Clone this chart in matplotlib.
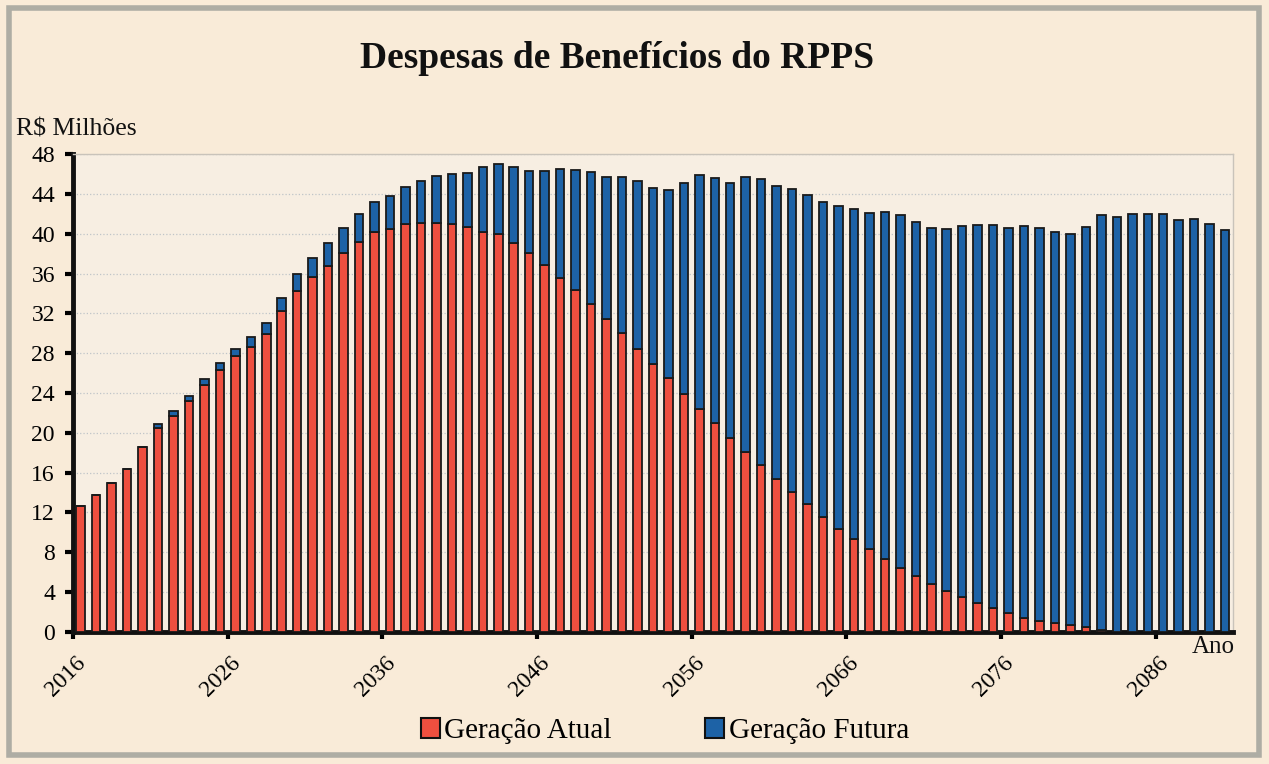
import matplotlib
matplotlib.use("Agg")
import matplotlib.pyplot as plt
from matplotlib.patches import Rectangle, Patch
from matplotlib.transforms import ScaledTranslation

plt.rcParams['font.family'] = ['Liberation Serif', 'DejaVu Serif']

# anos 2016..2090
anos = list(range(2016, 2091))

# R$ milhões
geracao_atual = [
    12.66, 13.71, 14.97, 16.38, 18.54, 20.52, 21.74, 23.23, 24.77, 26.26,
    27.67, 28.66, 29.88, 32.20, 34.29, 35.67, 36.76, 38.07, 39.13, 40.12,
    40.45, 40.94, 41.08, 41.07, 40.95, 40.70, 40.13, 39.95, 39.04, 38.01,
    36.89, 35.57, 34.37, 32.98, 31.45, 30.04, 28.46, 26.93, 25.47, 23.88,
    22.42, 20.96, 19.47, 18.12, 16.72, 15.37, 14.01, 12.82, 11.57, 10.38,
    9.36, 8.33, 7.31, 6.46, 5.60, 4.85, 4.15, 3.53, 2.96, 2.43,
    1.90, 1.45, 1.15, 0.88, 0.67, 0.45, 0.20, 0.0, 0.0, 0.0,
    0.0, 0.0, 0.0, 0.0, 0.0,
]
geracao_futura = [
    0.0, 0.0, 0.0, 0.0, 0.0, 0.33, 0.50, 0.50, 0.64, 0.71,
    0.78, 1.00, 1.20, 1.37, 1.67, 1.87, 2.27, 2.51, 2.87, 3.11,
    3.35, 3.75, 4.25, 4.68, 5.09, 5.41, 6.52, 7.06, 7.68, 8.28,
    9.36, 10.93, 12.04, 13.24, 14.25, 15.61, 16.85, 17.68, 18.89, 21.19,
    23.51, 24.67, 25.64, 27.55, 28.76, 29.46, 30.45, 31.03, 31.60, 32.42,
    33.10, 33.77, 34.88, 35.44, 35.60, 35.68, 36.35, 37.28, 37.91, 38.45,
    38.69, 39.29, 39.40, 39.25, 39.28, 40.21, 41.71, 41.72, 42.00, 41.98,
    41.96, 41.37, 41.45, 40.93, 40.41,
]

yticks = list(range(0, 49, 4))
xlabels = [str(a) for a in anos[::10]]

cor_atual = '#EE4F3F'
cor_futura = '#1D62A6'
fundo = '#F9EBD8'

fig = plt.figure(figsize=(12.69, 7.64), dpi=100, facecolor=fundo)
ax = fig.add_axes([0.0575, 0.1728, 0.914, 0.6256])
ax.set_facecolor('#F7EEE2')

x = list(range(len(anos)))
ax.bar(x, geracao_atual, width=0.55, color=cor_atual, edgecolor='#1a1a1a',
       linewidth=1.3, zorder=3)
ax.bar(x, geracao_futura, bottom=geracao_atual, width=0.55, color=cor_futura,
       edgecolor='#1a1a1a', linewidth=1.3, zorder=3)

ax.set_xlim(-0.5, len(anos) - 0.5)
ax.set_ylim(0, 48)
ax.set_yticks(yticks)
ax.tick_params(axis='y', labelsize=17, direction='out', length=6, width=3, pad=7)
ax.set_xticks([i - 0.5 for i in range(0, len(anos), 10)])
ax.set_xticklabels(xlabels, rotation=45, ha='center', fontsize=17)
ax.tick_params(axis='x', direction='out', length=5, width=3, pad=10)
# rótulos do eixo x um pouco para a esquerda, como no original
desloc = ScaledTranslation(-0.07, 0, fig.dpi_scale_trans)
for lab in ax.get_xticklabels():
    lab.set_transform(lab.get_transform() + desloc)

ax.yaxis.grid(True, color='#BFC4C8', linestyle=':', linewidth=0.9, zorder=0)
ax.set_axisbelow(True)

for s in ['top', 'right']:
    ax.spines[s].set_color('#C9C3BA')
    ax.spines[s].set_linewidth(1.0)
for s in ['left', 'bottom']:
    ax.spines[s].set_color('#111111')
    ax.spines[s].set_linewidth(3.5)

fig.text(0.4866, 0.923, 'Despesas de Benefícios do RPPS', ha='center', va='center',
         fontsize=27, fontweight='bold', color='#111111')
fig.text(0.013, 0.83, 'R$ Milhões', ha='left', va='center', fontsize=18.5,
         color='#111111')
fig.text(0.939, 0.153, 'Ano', ha='left', va='center', fontsize=18, color='#111111')

handles = [Patch(facecolor=cor_atual, edgecolor='#111111', linewidth=1.5),
           Patch(facecolor=cor_futura, edgecolor='#111111', linewidth=1.5)]
fig.legend(handles, ['Geração Atual', 'Geração Futura'], loc='center',
           bbox_to_anchor=(0.524, 0.043), ncol=2, frameon=False, fontsize=21,
           handlelength=0.65, handleheight=0.65, handletextpad=0.15,
           columnspacing=3.2)

# moldura cinza em volta do gráfico
fig.patches.append(Rectangle((0.007, 0.012), 0.985, 0.978, transform=fig.transFigure,
                             fill=False, edgecolor='#AEADA4', linewidth=4))

fig.savefig('out.png', dpi=100, facecolor=fundo)
